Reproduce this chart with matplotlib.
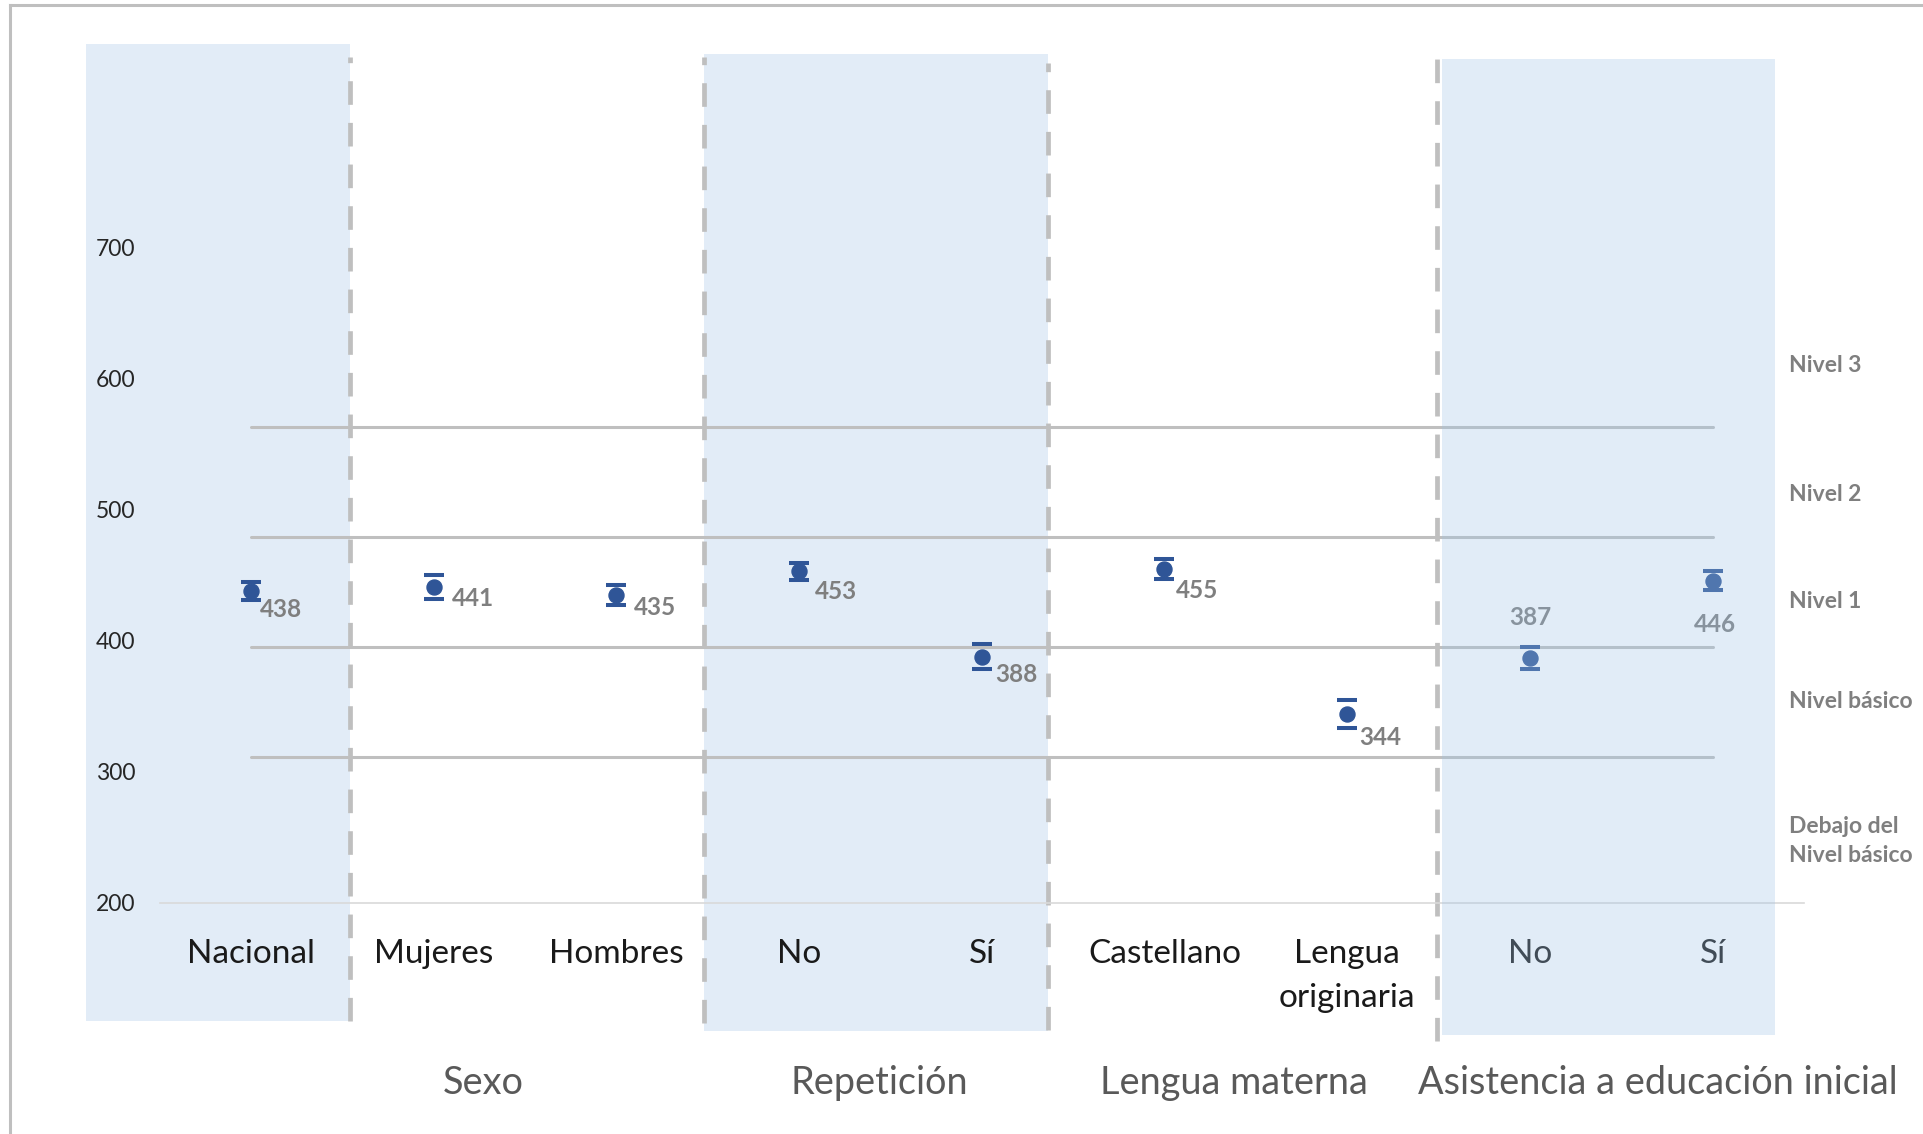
import matplotlib
matplotlib.use("Agg")
import matplotlib.pyplot as plt
from matplotlib.patches import Rectangle
from matplotlib.lines import Line2D

plt.rcParams['font.family'] = ['Lato', 'DejaVu Sans']
plt.rcParams['lines.scale_dashes'] = False

# ---- datos ----
categorias = ["Nacional", "Mujeres", "Hombres", "No", "Sí", "Castellano",
              "Lengua\noriginaria", "No", "Sí"]
puntajes = [438, 441, 435, 453, 388, 455, 344, 387, 446]
error = [7, 9, 8, 6.5, 9.5, 7.5, 10.5, 8.5, 7.5]

grupos = ["Sexo", "Repetición", "Lengua materna", "Asistencia a educación inicial"]
grupos_x = [1.27, 3.44, 5.38, 7.70]

cortes = [311, 395, 479, 563]
niveles = ["Nivel 3", "Nivel 2", "Nivel 1", "Nivel básico", "Debajo del\nNivel básico"]
niveles_y = [610, 512, 430, 354, 247]

yticks = [200, 300, 400, 500, 600, 700]

# ---- estilo / posiciones ----
AZUL = "#2F5597"
GRIS = "#BFBFBF"
BANDA = "#E2ECF7"
bandas = [(-0.9, 0.54, 110, 856), (2.48, 4.36, 102, 848)]
banda_top = (6.52, 8.34, 99, 844)
separadores = [(0.54, 110, 846), (2.48, 108, 846), (4.36, 103, 841), (6.49, 94, 845)]
# offset de etiquetas (pt) y alineacion
offsets = [(6.2, -13.2), (13.2, -7.9), (12.4, -8.8), (11.5, -14.1), (9.7, -13.2),
           (7.9, -15.9), (8.8, -16.8), (0, 29), (1.8, -31.8)]
aligns = ['left'] * 7 + ['center'] * 2

W, H = 1924, 1134
fig = plt.figure(figsize=(W / 100, H / 100), dpi=100)
ax = fig.add_axes([159.5 / W, 231.3 / H, (1804 - 159.5) / W, (886 - 231.3) / H])
ax.set_xlim(-0.5, 8.5)
ax.set_ylim(200, 700)

# marco exterior (solo izquierda y arriba visibles)
fig.add_artist(Line2D([10 / W, 10 / W], [0, 1 - 5 / H], color=GRIS, lw=2.2, transform=fig.transFigure))
fig.add_artist(Line2D([10 / W, 1], [1 - 5 / H, 1 - 5 / H], color=GRIS, lw=2.2, transform=fig.transFigure))

for x0, x1, y0, y1 in bandas:
    ax.add_patch(Rectangle((x0, y0), x1 - x0, y1 - y0, color=BANDA, lw=0, zorder=0, clip_on=False))

for c in cortes:
    ax.plot([0, len(categorias) - 1], [c, c], color=GRIS, lw=2.2, solid_capstyle='round', zorder=1, clip_on=False)

for x, y0, y1 in separadores:
    ax.plot([x, x], [y0, y1], color=GRIS, lw=3.4, dashes=(17, 13), zorder=2, clip_on=False)

xs = list(range(len(categorias)))
ax.errorbar(xs, puntajes, yerr=error, fmt='o', color=AZUL, ms=10.8, elinewidth=0,
            capsize=7.2, capthick=2.9, zorder=3, clip_on=False)

for i, v in enumerate(puntajes):
    ax.annotate(str(v), (xs[i], v), xytext=offsets[i], textcoords='offset points',
                ha=aligns[i], va='center', fontsize=17.5, fontweight='bold', color='#7F7F7F', zorder=4)

# banda de asistencia encima (transparente)
x0, x1, y0, y1 = banda_top
ax.add_patch(Rectangle((x0, y0), x1 - x0, y1 - y0, color="#9DC3E6", alpha=0.3, lw=0, zorder=5, clip_on=False))

ax.set_xticks(xs)
ax.set_xticklabels(categorias, fontsize=24, color='#1A1A1A', linespacing=1.6)
ax.set_yticks(yticks)
ax.set_yticklabels([str(t) for t in yticks], fontsize=16.5, color='#262626')
ax.tick_params(axis='x', length=0, pad=26)
ax.tick_params(axis='y', length=0, pad=17.6)
for s in ['top', 'right', 'left']:
    ax.spines[s].set_visible(False)
ax.spines['bottom'].set_color('#D9D9D9')
ax.spines['bottom'].set_linewidth(1.2)
ax.patch.set_alpha(0)

for g, gx in zip(grupos, grupos_x):
    ax.text(gx, 62, g, ha='center', va='center', fontsize=27.3, color='#595959', clip_on=False)

for n, ny in zip(niveles, niveles_y):
    ax.text(8.42, ny, n, ha='left', va='center', fontsize=16.5, fontweight='bold',
            color='#7F7F7F', linespacing=1.45, clip_on=False)

fig.savefig("out.png", dpi=100)
